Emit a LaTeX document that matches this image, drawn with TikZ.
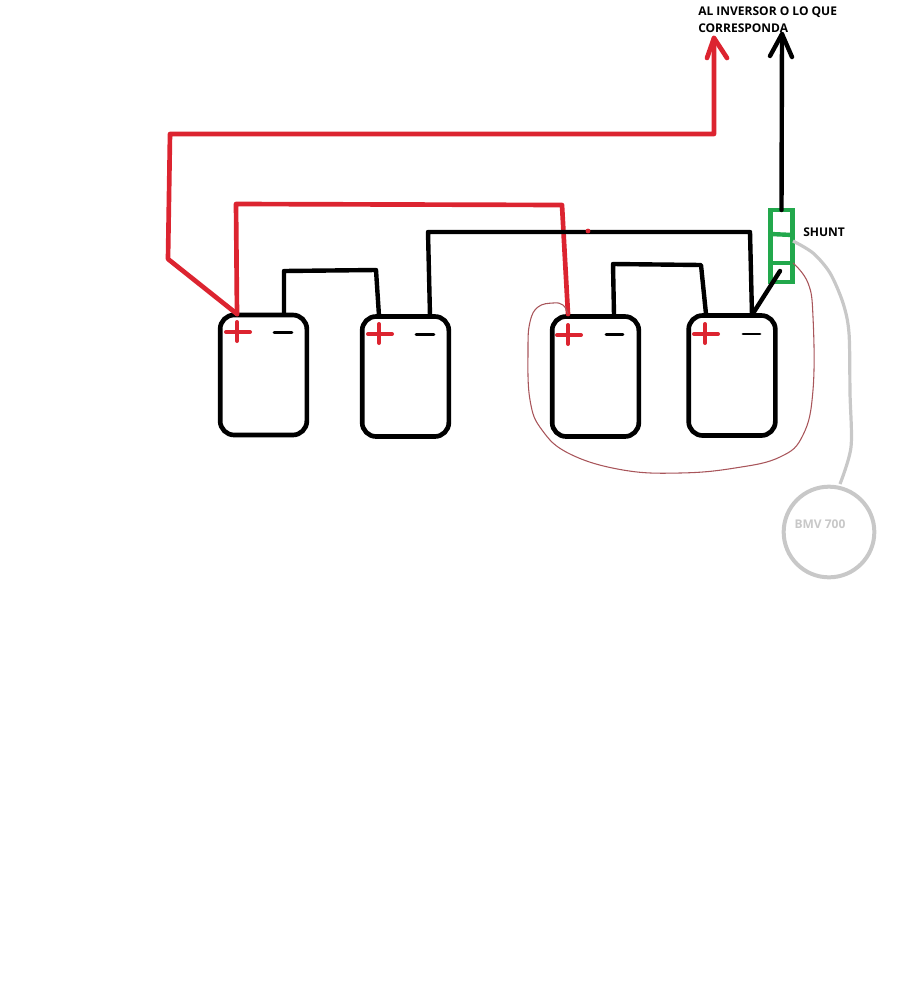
\documentclass[tikz,border=0pt]{standalone}
\usepackage{fontspec}
\setmainfont{Open Sans}
\definecolor{wirered}{HTML}{DC2430}
\definecolor{thinred}{HTML}{A8555A}
\definecolor{shuntgreen}{HTML}{22A84C}
\definecolor{metergrey}{HTML}{C8C8C8}
\tikzset{
  battery/.style={draw=black,line width=3.5pt,rounded corners=10.5pt,minimum width=65pt,minimum height=90pt,inner sep=0pt,outer sep=0pt},
  blackwire/.style={draw=black,line width=3.3pt,line join=round,line cap=round},
  redwire/.style={draw=wirered,line width=3.5pt,line join=round,line cap=round},
  polemark/.style={line width=2.2pt,line cap=round},
  plusmark/.style={draw=wirered,line width=3pt,line cap=round},
  thinwire/.style={draw=thinred,line width=0.8pt,line join=round},
  greywire/.style={draw=metergrey,line width=2.4pt,line join=round},
  shuntbox/.style={draw=shuntgreen,line width=3.3pt,minimum width=16.5pt,minimum height=54pt,inner sep=0pt,outer sep=0pt},
  meter/.style={circle,draw=metergrey,line width=3pt,minimum size=68pt,inner sep=0pt,outer sep=0pt},
  caption/.style={font=\bfseries\fontsize{9pt}{10pt}\selectfont,text=black,anchor=west,inner sep=0pt},
}
\begin{document}
\begin{tikzpicture}[x=0.75pt,y=-0.75pt]
\useasboundingbox (0,0) rectangle (899,1000);
% batteries
\node[battery] (b1) at (263.5,375) {};
\node[battery] (b2) at (405.5,376.5) {};
\node[battery] (b3) at (595.5,376.5) {};
\node[battery] (b4) at (732,375.5) {};
% terminals
\coordinate (b1p) at (237,314);
\coordinate (b1n) at (284,314);
\coordinate (b2p) at (379,316);
\coordinate (b2n) at (430,316);
\coordinate (b3p) at (568,314);
\coordinate (b3n) at (614,315);
\coordinate (b4p) at (706,314);
\coordinate (b4n) at (752,315);
% pole marks
\foreach \x/\y in {237/332,379/334,568/335,705/334}{
  \draw[plusmark] (\x,\y-10) -- (\x,\y+9);
  \draw[plusmark] (\x-11,\y) -- (\x+13,\y);
}
\draw[polemark] (274,332.5) -- (292,332.5);
\draw[polemark] (416,334.5) -- (434,334.5);
\draw[polemark] (606,334.5) -- (623,334.5);
\draw[polemark] (743,334) -- (760,334);
% shunt
\node[shuntbox] (shunt) at (781.5,246) {};
\draw[draw=shuntgreen,line width=3.3pt] (shunt.west |- 0,234) -- (shunt.east |- 0,235);
\draw[draw=shuntgreen,line width=3.3pt] (shunt.west |- 0,263) -- (shunt.east |- 0,263);
% red wires
\coordinate (r1) at (714,134);
\coordinate (r2) at (170,134);
\coordinate (r3) at (168,259);
\coordinate (rtip) at (714,38);
\coordinate (rl) at (707,58);
\coordinate (rr) at (727,58);
\draw[redwire] (b1p) -- (r3) -- (r2) -- (r1) -- (rtip);
\draw[redwire] (rl) -- (rtip) -- (rr);
\coordinate (r4) at (236,204);
\coordinate (r5) at (562,205);
\draw[redwire] (b1p) -- (r4) -- (r5) -- (b3p);
% black wires
\coordinate (k1) at (284,271);
\coordinate (k2) at (376,270);
\draw[blackwire] (b1n) -- (k1) -- (k2) -- (b2p);
\coordinate (k3) at (428,232);
\coordinate (k4) at (750,232);
\draw[blackwire] (b2n) -- (k3) -- (k4) -- (b4n);
\coordinate (k5) at (613,264);
\coordinate (k6) at (701,265);
\draw[blackwire] (b3n) -- (k5) -- (k6) -- (b4p);
\coordinate (k7) at (780,271);
\draw[blackwire] (b4n) -- (k7);
\coordinate (ktip) at (782,34);
\coordinate (kl) at (770,56);
\coordinate (kr) at (792,57);
\draw[blackwire] (shunt.north) -- (ktip);
\draw[blackwire] (kl) -- (ktip) -- (kr);
\fill[wirered] (588,231) circle (1.8pt);
% thin red loop
\coordinate (t0) at (793,263);
\draw[thinwire] plot[smooth,tension=0.7] coordinates {(b3p) (563,305) (553,303) (538,307) (530,322) (528,350) (530,400) (542,430) (570,454) (623,470) (680,473) (735,468) (780,457) (803,435) (813,390) (813,317) (808,283) (t0)};
% meter
\node[meter] (bmv) at (829,532) {};
\node[font=\bfseries\fontsize{9pt}{10pt}\selectfont,text=metergrey,inner sep=0pt] (bmvt) at (820,524) {BMV 700};
\coordinate (g0) at (793,241);
\draw[greywire] plot[smooth,tension=0.5] coordinates {(g0) (813,253) (830,273) (843,303) (849,333) (850,393) (851,447) (840,484)};
% captions
\node[caption] (shuntt) at (803,232.5) {SHUNT};
\node[caption] (cap1) at (698,12) {AL INVERSOR O LO QUE};
\node[caption] (cap2) at (698,28.5) {CORRESPONDA};
\end{tikzpicture}
\end{document}
